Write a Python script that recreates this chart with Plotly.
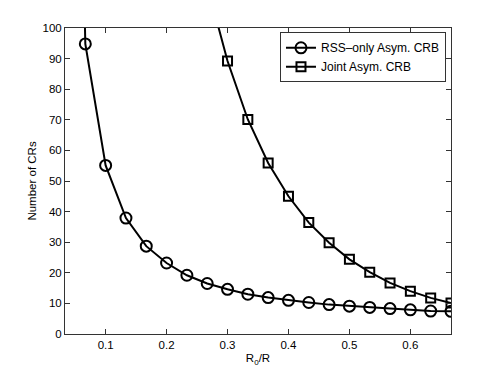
import plotly.graph_objects as go

x_rss = [1/30, 2/30, 3/30, 4/30, 5/30, 6/30, 7/30, 8/30, 9/30, 10/30, 11/30, 12/30,
         13/30, 14/30, 15/30, 16/30, 17/30, 18/30, 19/30, 20/30]
y_rss = [400, 94.8, 55.1, 37.9, 28.7, 23.2, 19.2, 16.5, 14.6, 13.0, 11.9, 11.0,
         10.3, 9.6, 9.1, 8.7, 8.3, 7.9, 7.5, 7.4]

x_joint = [8/30, 9/30, 10/30, 11/30, 12/30, 13/30, 14/30, 15/30, 16/30, 17/30,
           18/30, 19/30, 20/30]
y_joint = [114, 89.2, 70.1, 55.9, 45.0, 36.4, 29.8, 24.4, 20.2, 16.7, 14.0, 11.8, 10.1]

x_ticks = [0.1, 0.2, 0.3, 0.4, 0.5, 0.6]
y_ticks = [0, 10, 20, 30, 40, 50, 60, 70, 80, 90, 100]

font = "Liberation Sans, Arial, Helvetica, sans-serif"

fig = go.Figure()
fig.add_trace(go.Scatter(
    x=x_rss, y=y_rss, mode="lines+markers", name="RSS\u2013only Asym. CRB",
    line=dict(color="black", width=2),
    marker=dict(symbol="circle-open", size=11, color="black", line=dict(width=2)),
    cliponaxis=True,
))
fig.add_trace(go.Scatter(
    x=x_joint, y=y_joint, mode="lines+markers", name="Joint Asym. CRB",
    line=dict(color="black", width=2),
    marker=dict(symbol="square-open", size=9, color="black", line=dict(width=2)),
    cliponaxis=True,
))

axis_common = dict(
    showline=True, linecolor="#333333", linewidth=1, mirror="ticks",
    ticks="inside", ticklen=5, tickcolor="#333333", showgrid=False, zeroline=False,
    tickfont=dict(family=font, size=11.5, color="black"),
)

fig.update_layout(
    width=490, height=367,
    margin=dict(l=57, r=47, t=20, b=41),
    paper_bgcolor="white", plot_bgcolor="white",
    font=dict(family=font, size=11.5, color="black"),
    showlegend=True,
    legend=dict(
        x=0.987, y=0.986, xanchor="right", yanchor="top",
        bgcolor="white", bordercolor="#333333", borderwidth=1,
        font=dict(family=font, size=12, color="black"),
        tracegroupgap=0, itemwidth=30,
    ),
    xaxis=dict(range=[1/30, 2/3], tickvals=x_ticks,
               ticktext=[str(v) for v in x_ticks],
               title=dict(text="R<sub>0</sub>/R", standoff=4,
                          font=dict(family=font, size=11.5)),
               **axis_common),
    yaxis=dict(range=[0, 100], tickvals=y_ticks,
               title=dict(text="Number of CRs", standoff=3,
                          font=dict(family=font, size=11.5)),
               **axis_common),
)

fig.write_html("out.html")
